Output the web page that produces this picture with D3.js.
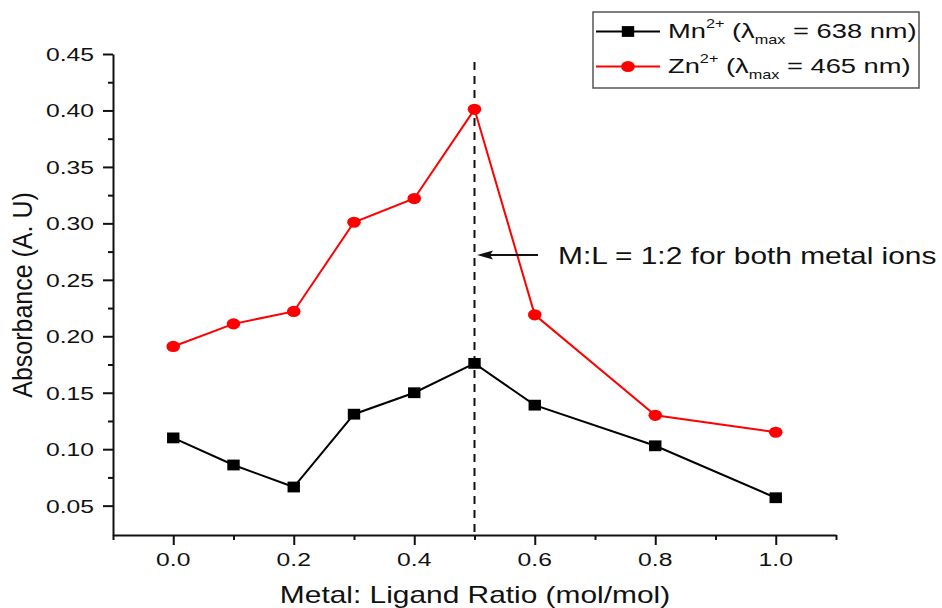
<!DOCTYPE html>
<html><head><meta charset="utf-8">
<script src="https://cdn.jsdelivr.net/npm/d3@7"></script>
<style>
html,body{margin:0;padding:0;background:#fff;}
svg{display:block;font-family:"Liberation Sans",Arial,Helvetica,sans-serif;}
</style></head>
<body>
<svg id="chart" width="942" height="608"></svg>
<script>
// ---- data ----
const ratios = [0.0, 0.1, 0.2, 0.3, 0.4, 0.5, 0.6, 0.8, 1.0];
const mnValues = [0.110, 0.086, 0.0665, 0.131, 0.150, 0.176, 0.139, 0.103, 0.057];
const znValues = [0.191, 0.211, 0.222, 0.301, 0.322, 0.401, 0.219, 0.130, 0.115];
const xTickValues = [0.0, 0.2, 0.4, 0.6, 0.8, 1.0];
const xTickLabels = ["0.0", "0.2", "0.4", "0.6", "0.8", "1.0"];
const xMinorTicks = [-0.1, 0.1, 0.3, 0.5, 0.7, 0.9, 1.1];
const yTickValues = [0.05, 0.10, 0.15, 0.20, 0.25, 0.30, 0.35, 0.40, 0.45];
const yTickLabels = ["0.05", "0.10", "0.15", "0.20", "0.25", "0.30", "0.35", "0.40", "0.45"];
const yMinorTicks = [0.075, 0.125, 0.175, 0.225, 0.275, 0.325, 0.375, 0.425];
const seriesNames = ["Mn", "Zn"];
const seriesLambda = ["638", "465"];
const stoichRatio = 0.5;
const annotationText = "M:L = 1:2 for both metal ions";

const SX = 1.3; // horizontal stretch of the original picture
const svg = d3.select("#chart");
const x = d3.scaleLinear().domain([-0.1, 1.1]).range([113, 836]);
const y = d3.scaleLinear().domain([0.024, 0.45]).range([535, 54]);

function stext(parent, px, py, str, size, anchor) {
  return parent.append("text")
    .attr("transform", `translate(${px},${py}) scale(${SX},1)`)
    .attr("text-anchor", anchor)
    .style("font-size", size + "px")
    .attr("fill", "#111")
    .text(str);
}

// ---- axes ----
const gx = svg.append("g").attr("transform", "translate(0,535)");
gx.call(d3.axisBottom(x).tickValues(xTickValues).tickSize(10).tickSizeOuter(0).tickFormat(""));
const gxm = svg.append("g").attr("transform", "translate(0,535)");
gxm.call(d3.axisBottom(x).tickValues(xMinorTicks).tickSize(5).tickSizeOuter(0).tickFormat(""));
gxm.select(".domain").remove();

const gy = svg.append("g").attr("transform", "translate(113,0)");
gy.call(d3.axisLeft(y).tickValues(yTickValues).tickSize(10).tickSizeOuter(0).tickFormat(""));
const gym = svg.append("g").attr("transform", "translate(113,0)");
gym.call(d3.axisLeft(y).tickValues(yMinorTicks).tickSize(5).tickSizeOuter(0).tickFormat(""));
gym.select(".domain").remove();

svg.selectAll(".domain").attr("stroke", "#111").attr("stroke-width", 2);
svg.selectAll(".tick line").attr("stroke", "#111").attr("stroke-width", 2);

// tick labels
xTickValues.forEach((v, i) => stext(svg, x(v), 566, xTickLabels[i], 19, "middle"));
yTickValues.forEach((v, i) => stext(svg, 94, y(v) + 7, yTickLabels[i], 19, "end"));

// axis titles
stext(svg, 475, 603, "Metal: Ligand Ratio (mol/mol)", 23, "middle");
svg.append("text")
  .attr("transform", `translate(32,295) rotate(-90) scale(1,1.1)`)
  .attr("text-anchor", "middle")
  .style("font-size", "25px")
  .attr("fill", "#111")
  .text("Absorbance (A. U)");

// ---- vertical dashed line ----
svg.append("line")
  .attr("x1", x(stoichRatio)).attr("x2", x(stoichRatio))
  .attr("y1", 62).attr("y2", 535)
  .attr("stroke", "#111").attr("stroke-width", 2)
  .attr("stroke-dasharray", "8,6");

// ---- series ----
const line = d3.line().x((d, i) => x(ratios[i])).y(d => y(d));
svg.append("path").datum(mnValues).attr("d", line)
  .attr("fill", "none").attr("stroke", "#000").attr("stroke-width", 2);
svg.append("path").datum(znValues).attr("d", line)
  .attr("fill", "none").attr("stroke", "#ff0000").attr("stroke-width", 2);

svg.selectAll(".mn-pt").data(mnValues).enter().append("rect")
  .attr("class", "mn-pt")
  .attr("x", (d, i) => x(ratios[i]) - 6.2).attr("y", d => y(d) - 5.4)
  .attr("width", 12.4).attr("height", 10.8).attr("fill", "#000");
svg.selectAll(".zn-pt").data(znValues).enter().append("ellipse")
  .attr("class", "zn-pt")
  .attr("cx", (d, i) => x(ratios[i])).attr("cy", d => y(d))
  .attr("rx", 6.8).attr("ry", 5.6).attr("fill", "#ff0000");

// ---- annotation arrow ----
const ay = 255;
svg.append("line").attr("x1", 538).attr("x2", 488).attr("y1", ay).attr("y2", ay)
  .attr("stroke", "#111").attr("stroke-width", 2);
svg.append("path")
  .attr("d", `M${477},${ay} L${493},${ay - 4.5} L${490},${ay} L${493},${ay + 4.5} Z`)
  .attr("fill", "#111");
stext(svg, 558, 264, annotationText, 23, "start");

// ---- legend ----
const lg = svg.append("g");
lg.append("rect").attr("x", 593).attr("y", 12).attr("width", 326).attr("height", 76)
  .attr("fill", "#fff").attr("stroke", "#555").attr("stroke-width", 1.5);
const legendColors = ["#000", "#ff0000"];
const rowY = [31.5, 66.5];
seriesNames.forEach((name, i) => {
  const cy = rowY[i];
  lg.append("line").attr("x1", 596).attr("x2", 660).attr("y1", cy).attr("y2", cy)
    .attr("stroke", legendColors[i]).attr("stroke-width", 2);
  if (i === 0) {
    lg.append("rect").attr("x", 628 - 6.2).attr("y", cy - 5.4).attr("width", 12.4).attr("height", 10.8).attr("fill", "#000");
  } else {
    lg.append("ellipse").attr("cx", 628).attr("cy", cy).attr("rx", 6.8).attr("ry", 5.6).attr("fill", "#ff0000");
  }
  const t = lg.append("text")
    .attr("transform", `translate(668,${cy + 6}) scale(${SX},1)`)
    .style("font-size", "21px").attr("fill", "#111");
  t.append("tspan").text(name);
  t.append("tspan").attr("dy", -10).style("font-size", "12.5px").text("2+");
  t.append("tspan").attr("dy", 10).text(" (λ");
  t.append("tspan").attr("dy", 6).style("font-size", "12.5px").text("max");
  t.append("tspan").attr("dy", -6).text(" = " + seriesLambda[i] + " nm)");
});
</script>
</body></html>
